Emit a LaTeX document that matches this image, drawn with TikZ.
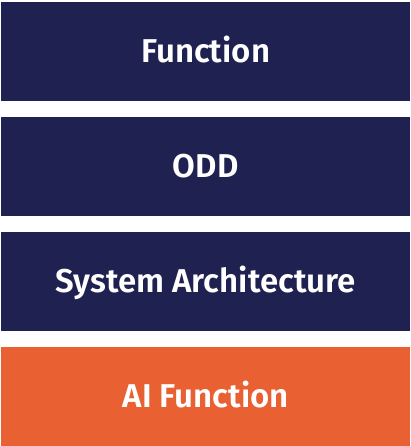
\documentclass[tikz,border=0pt]{standalone}
\usepackage{fontspec}
\setmainfont{Fira Sans}[BoldFont={Fira Sans SemiBold}]
\definecolor{navy}{RGB}{31,33,81}
\definecolor{flame}{RGB}{233,97,51}
\begin{document}
\begin{tikzpicture}[x=1pt,y=-1pt,
  layer/.style={draw=none,minimum width=409pt,minimum height=99.5pt,inner sep=0pt,
    text height=22.7pt,text depth=0pt,
    text=white,font=\bfseries\fontsize{33}{38}\selectfont,anchor=north west}]
\useasboundingbox[fill=white] (0,0) rectangle (410,446);
\node[layer,fill=navy] (function) at (1,1.5) {Function};
\node[layer,fill=navy] (odd) at (1,116.5) {ODD};
\node[layer,fill=navy] (arch) at (1,231.5) {System Architecture};
\node[layer,fill=flame] (ai) at (1,346.5) {AI Function};
\end{tikzpicture}
\end{document}
